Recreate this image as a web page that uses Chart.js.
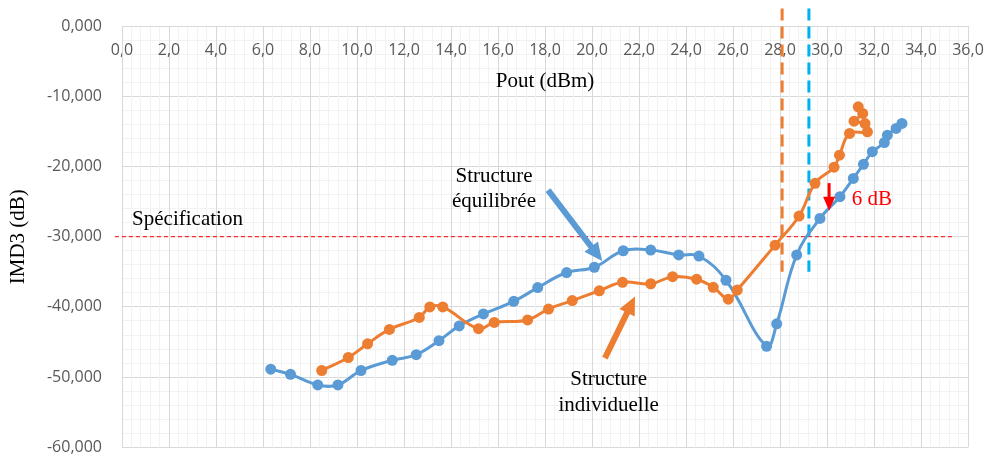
<!DOCTYPE html>
<html>
<head>
<meta charset="utf-8">
<script src="https://cdn.jsdelivr.net/npm/chart.js@4.4.1/dist/chart.umd.min.js"></script>
<style>
  html, body { margin: 0; padding: 0; background: #fff; }
  #wrap { width: 990px; height: 457px; position: relative; }
</style>
</head>
<body>
<div id="wrap"><canvas id="imdChart"></canvas></div>
<script>
// Structure équilibrée (bleu) : Pout (dBm) et IMD3 (dB)
const equiPout = [6.33, 7.17, 8.33, 9.19, 10.17, 11.5, 12.52, 13.49, 14.35, 15.38, 16.67, 17.69, 18.92, 20.1, 21.33, 22.5,
  23.69, 24.55, 25.7, 27.43, 27.86, 28.71, 29.7, 30.55, 31.12, 31.55, 31.93, 32.44, 32.57, 32.94, 33.19];
const equiImd3 = [-48.86, -49.6, -51.1, -51.1, -49.05, -47.6, -46.8, -44.8, -42.7, -41.0, -39.2, -37.25, -35.1, -34.35, -32.0, -31.9,
  -32.6, -32.75, -36.2, -45.6, -42.4, -32.6, -27.4, -24.3, -21.7, -19.7, -17.9, -16.6, -15.54, -14.59, -13.88];

// Structure individuelle (orange)
const indivPout = [8.5, 9.63, 10.45, 11.38, 12.65, 13.1, 13.65, 15.17, 15.84, 17.26, 18.15, 19.16, 20.31, 21.3, 22.5, 23.43,
  24.45, 25.16, 25.8, 26.18, 27.79, 28.81, 29.49, 30.3, 30.53, 30.96, 31.72, 31.62, 31.15, 31.52, 31.33];
const indivImd3 = [-49.05, -47.2, -45.25, -43.2, -41.5, -40.0, -40.0, -43.1, -42.2, -41.85, -40.3, -39.1, -37.7, -36.5, -36.7, -35.7,
  -36.05, -37.2, -38.9, -37.6, -31.2, -27.06, -22.4, -20.1, -18.4, -15.3, -15.07, -13.9, -13.55, -12.45, -11.5];

// axes
const xMajorTicks = [0, 2, 4, 6, 8, 10, 12, 14, 16, 18, 20, 22, 24, 26, 28, 30, 32, 34, 36];
const yMajorTicks = [0, -10, -20, -30, -40, -50, -60];

// spécification et repères verticaux (en unités du graphe)
const specLevel = -30;
const specSpan = [-0.3, 35.4];
const markerIndiv = 28.09;
const markerEqui = 29.23;
const markerSpan = [2.5, -35];

const isOn = (list, v) => list.some(t => Math.abs(t - v) < 1e-6);
const fmt = (v, d) => v.toFixed(d).replace('.', ',');

const serif = '"Liberation Serif", "Times New Roman", serif';

// flèches et textes d'annotation
const arrows = [
  { from: [18.13, -23.36], to: [20.43, -33.46], color: '#5B9BD5', width: 6, head: 18, headW: 17 },
  { from: [20.55, -47.29], to: [21.83, -38.53], color: '#ED7D31', width: 6, head: 18, headW: 17 },
  { from: [30.09, -22.37], to: [30.09, -26.3], color: '#FF0000', width: 3, head: 14, headW: 12 }
];
const notes = [
  { text: 'Spécification', at: [0.43, -27.5], align: 'left', color: '#000' },
  { text: 'Structure', at: [15.83, -21.37], align: 'center', color: '#000' },
  { text: 'équilibrée', at: [15.83, -25.0], align: 'center', color: '#000' },
  { text: 'Structure', at: [20.71, -50.4], align: 'center', color: '#000' },
  { text: 'individuelle', at: [20.71, -54.1], align: 'center', color: '#000' },
  { text: '6 dB', at: [31.05, -24.64], align: 'left', color: '#FF0000' }
];

const notesPlugin = {
  id: 'notes',
  afterDatasetsDraw(chart) {
    const { ctx, scales: { x, y } } = chart;
    ctx.save();
    arrows.forEach(a => {
      const x0 = x.getPixelForValue(a.from[0]), y0 = y.getPixelForValue(a.from[1]);
      const x1 = x.getPixelForValue(a.to[0]), y1 = y.getPixelForValue(a.to[1]);
      const len = Math.hypot(x1 - x0, y1 - y0);
      const ux = (x1 - x0) / len, uy = (y1 - y0) / len;
      const bx = x1 - ux * a.head, by = y1 - uy * a.head;
      ctx.strokeStyle = a.color;
      ctx.fillStyle = a.color;
      ctx.lineWidth = a.width;
      ctx.lineCap = 'butt';
      ctx.beginPath();
      ctx.moveTo(x0, y0);
      ctx.lineTo(bx + ux, by + uy);
      ctx.stroke();
      ctx.beginPath();
      ctx.moveTo(x1, y1);
      ctx.lineTo(bx - uy * a.headW / 2, by + ux * a.headW / 2);
      ctx.lineTo(bx + uy * a.headW / 2, by - ux * a.headW / 2);
      ctx.closePath();
      ctx.fill();
    });
    ctx.font = '21px ' + serif;
    ctx.textBaseline = 'middle';
    notes.forEach(n => {
      ctx.fillStyle = n.color;
      ctx.textAlign = n.align;
      ctx.fillText(n.text, x.getPixelForValue(n.at[0]), y.getPixelForValue(n.at[1]));
    });
    ctx.restore();
  }
};

const toPoints = (xs, ys) => xs.map((v, i) => ({ x: v, y: ys[i] }));

const tickFont = { family: '"Open Sans", sans-serif', size: 16 };

new Chart(document.getElementById('imdChart'), {
  type: 'scatter',
  data: {
    datasets: [
      {
        label: 'Structure individuelle',
        data: toPoints(indivPout, indivImd3),
        showLine: true,
        borderColor: '#ED7D31',
        backgroundColor: '#ED7D31',
        borderWidth: 3,
        pointRadius: 5.5,
        pointBorderWidth: 0,
        tension: 0.4,
        order: 0
      },
      {
        label: 'Structure équilibrée',
        data: toPoints(equiPout, equiImd3),
        showLine: true,
        borderColor: '#5B9BD5',
        backgroundColor: '#5B9BD5',
        borderWidth: 3,
        pointRadius: 5.5,
        pointBorderWidth: 0,
        tension: 0.4,
        order: 1
      },
      {
        label: 'Spécification',
        data: specSpan.map(v => ({ x: v, y: specLevel })),
        showLine: true,
        borderColor: '#FF0000',
        borderWidth: 1,
        borderDash: [4, 3],
        pointRadius: 0,
        clip: false,
        order: 4
      },
      {
        label: 'Repère individuelle',
        data: markerSpan.map(v => ({ x: markerIndiv, y: v })),
        showLine: true,
        borderColor: '#ED7D31',
        borderWidth: 3,
        borderDash: [12, 6],
        pointRadius: 0,
        clip: false,
        order: 3
      },
      {
        label: 'Repère équilibrée',
        data: markerSpan.map(v => ({ x: markerEqui, y: v })),
        showLine: true,
        borderColor: '#00B0F0',
        borderWidth: 3,
        borderDash: [12, 6],
        pointRadius: 0,
        clip: false,
        order: 3
      }
    ]
  },
  options: {
    responsive: true,
    maintainAspectRatio: false,
    animation: false,
    devicePixelRatio: 1,
    events: [],
    layout: { padding: { left: 0, right: 22, top: 26, bottom: 9 } },
    plugins: {
      legend: { display: false },
      tooltip: { enabled: false }
    },
    scales: {
      x: {
        type: 'linear',
        position: { y: 0 },
        min: 0,
        max: 36,
        ticks: {
          stepSize: 0.4,
          autoSkip: false,
          maxRotation: 0,
          padding: 0,
          color: '#595959',
          font: tickFont,
          callback: v => isOn(xMajorTicks, v) ? fmt(v, 1) : ''
        },
        grid: {
          z: -1,
          drawTicks: true,
          tickLength: 15,
          tickColor: 'rgba(0,0,0,0)',
          lineWidth: 1,
          color: c => isOn(xMajorTicks, c.tick.value) ? '#D9D9D9' : '#F2F2F2'
        },
        border: { color: '#D9D9D9' },
        title: {
          display: true,
          text: 'Pout (dBm)',
          color: '#000',
          font: { family: serif, size: 21 },
          padding: { top: 9, bottom: 0 }
        }
      },
      y: {
        type: 'linear',
        min: -60,
        max: 0,
        afterFit: s => { s.width = 122; },
        ticks: {
          stepSize: 2,
          autoSkip: false,
          padding: 0,
          color: '#595959',
          font: tickFont,
          callback: v => isOn(yMajorTicks, v) ? fmt(v, 3) : ''
        },
        grid: {
          z: -2,
          drawTicks: true,
          tickLength: 20,
          tickColor: 'rgba(0,0,0,0)',
          lineWidth: 1,
          color: c => isOn(yMajorTicks, c.tick.value) ? '#D9D9D9' : '#F2F2F2'
        },
        border: { color: '#D9D9D9' },
        title: {
          display: true,
          text: 'IMD3 (dB)',
          color: '#000',
          font: { family: serif, size: 21 },
          padding: { top: 6, bottom: 0 }
        }
      }
    }
  },
  plugins: [notesPlugin]
});
</script>
</body>
</html>
